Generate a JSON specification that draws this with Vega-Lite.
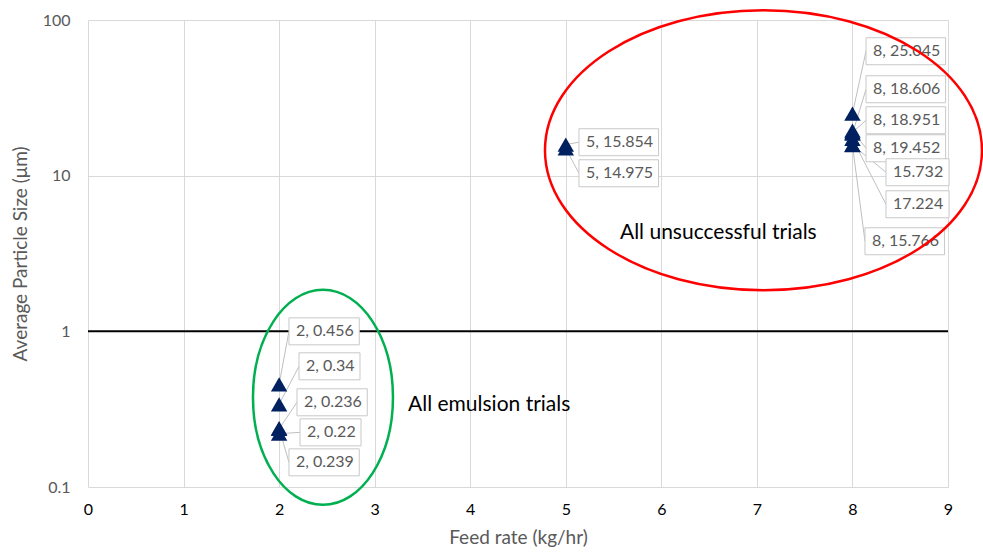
{
  "$schema": "https://vega.github.io/schema/vega-lite/v6.json",
  "width": 860,
  "height": 467,
  "autosize": {"type": "none"},
  "padding": {"left": 88, "top": 20, "right": 35, "bottom": 67},
  "background": "white",
  "config": {"view": {"stroke": null}, "font": "Lato"},
  "datasets": {
    "trials": [
      {"feed": 2, "size": 0.456, "label": "2, 0.456", "lx": 2.103, "ly": 1.0},
      {"feed": 2, "size": 0.34, "label": "2, 0.34", "lx": 2.208, "ly": 0.596},
      {"feed": 2, "size": 0.236, "label": "2, 0.236", "lx": 2.187, "ly": 0.35},
      {"feed": 2, "size": 0.22, "label": "2, 0.22", "lx": 2.219, "ly": 0.2244},
      {"feed": 2, "size": 0.239, "label": "2, 0.239", "lx": 2.103, "ly": 0.144},
      {"feed": 5, "size": 15.854, "label": "5, 15.854", "lx": 5.138, "ly": 16.4},
      {"feed": 5, "size": 14.975, "label": "5, 14.975", "lx": 5.138, "ly": 10.36},
      {"feed": 8, "size": 25.045, "label": "8, 25.045", "lx": 8.142, "ly": 63.0},
      {"feed": 8, "size": 18.606, "label": "8, 18.606", "lx": 8.142, "ly": 35.9},
      {"feed": 8, "size": 18.951, "label": "8, 18.951", "lx": 8.142, "ly": 22.7},
      {"feed": 8, "size": 19.452, "label": "8, 19.452", "lx": 8.142, "ly": 15.0},
      {"feed": 8, "size": 15.732, "label": "15.732", "lx": 8.351, "ly": 10.52},
      {"feed": 8, "size": 17.224, "label": "17.224", "lx": 8.351, "ly": 6.55},
      {"feed": 8, "size": 15.766, "label": "8, 15.766", "lx": 8.131, "ly": 3.79}
    ],
    "groups": [
      {"group": "unsuccessful", "cx": 7.069, "cy": 14.56, "note": "All unsuccessful trials", "tx": 5.567, "ty": 4.264},
      {"group": "emulsion", "cx": 2.459, "cy": 0.3766, "note": "All emulsion trials", "tx": 3.349, "ty": 0.3346}
    ],
    "threshold": [{"size": 1}]
  },
  "layer": [
    {
      "data": {"name": "trials"},
      "mark": {"type": "rule", "color": "#bfbfbf", "strokeWidth": 1},
      "encoding": {
        "x": {
          "field": "feed", "type": "quantitative",
          "scale": {"domain": [0, 9], "nice": false, "zero": false},
          "axis": {
            "title": "Feed rate (kg/hr)", "values": [0, 1, 2, 3, 4, 5, 6, 7, 8, 9], "format": "d",
            "grid": true, "gridColor": "#d9d9d9", "domain": false, "ticks": false, "labelFlush": false,
            "labelPadding": 14, "labelFontSize": 16, "labelColor": "#000000", "labelFont": "Lato",
            "titleFontSize": 19, "titleFontWeight": "normal", "titleColor": "#595959", "titleFont": "Lato",
            "titlePadding": 11
          }
        },
        "y": {
          "field": "size", "type": "quantitative",
          "scale": {"type": "log", "domain": [0.1, 100], "nice": false},
          "axis": {
            "title": "Average Particle Size (μm)", "values": [0.1, 1, 10, 100], "format": "~g",
            "grid": true, "gridColor": "#d9d9d9", "domain": false, "ticks": false, "labelFlush": false,
            "labelPadding": 18, "labelFontSize": 16, "labelColor": "#595959", "labelFont": "Lato",
            "titleFontSize": 19, "titleFontWeight": "normal", "titleColor": "#595959", "titleFont": "Lato",
            "titlePadding": 12
          }
        },
        "x2": {"field": "lx"},
        "y2": {"field": "ly"}
      }
    },
    {
      "data": {"name": "threshold"},
      "mark": {"type": "rule", "color": "#000000", "strokeWidth": 2},
      "encoding": {
        "y": {"field": "size", "type": "quantitative", "scale": {"type": "log", "domain": [0.1, 100], "nice": false}}
      }
    },
    {
      "data": {"name": "trials"},
      "transform": [
        {"calculate": "length(replace(datum.label, /[^0-9]/g, ''))", "as": "nd"},
        {"calculate": "datum.lx + (datum.nd * 9.3 + (length(datum.label) - datum.nd) * 3.6 + 13) / 95.556", "as": "rx"}
      ],
      "layer": [
        {
          "mark": {"type": "rect", "fill": "#ffffff", "stroke": "#c8c8c8", "strokeWidth": 1, "yOffset": -13.5, "y2Offset": 13.5},
          "encoding": {
            "x": {"field": "lx", "type": "quantitative", "scale": {"domain": [0, 9], "nice": false, "zero": false}},
            "x2": {"field": "rx"},
            "y": {"field": "ly", "type": "quantitative", "scale": {"type": "log", "domain": [0.1, 100], "nice": false}},
            "y2": {"field": "ly"}
          }
        },
        {
          "mark": {"type": "text", "align": "left", "baseline": "middle", "dx": 7, "fontSize": 16, "color": "#595959", "font": "Lato"},
          "encoding": {
            "x": {"field": "lx", "type": "quantitative", "scale": {"domain": [0, 9], "nice": false, "zero": false}},
            "y": {"field": "ly", "type": "quantitative", "scale": {"type": "log", "domain": [0.1, 100], "nice": false}},
            "text": {"field": "label"}
          }
        }
      ]
    },
    {
      "data": {"name": "trials"},
      "mark": {"type": "point", "shape": "triangle-up", "filled": true, "color": "#002060", "opacity": 1, "size": 270},
      "encoding": {
        "x": {"field": "feed", "type": "quantitative", "scale": {"domain": [0, 9], "nice": false, "zero": false}},
        "y": {"field": "size", "type": "quantitative", "scale": {"type": "log", "domain": [0.1, 100], "nice": false}}
      }
    },
    {
      "data": {"name": "groups"},
      "transform": [{"filter": "datum.group === 'unsuccessful'"}],
      "mark": {"type": "point", "shape": "M-1,0A1,0.6407 0 1,1 1,0A1,0.6407 0 1,1 -1,0Z", "filled": false, "stroke": "#ff0000", "strokeWidth": 2.5, "opacity": 1, "size": 190969},
      "encoding": {
        "x": {"field": "cx", "type": "quantitative", "scale": {"domain": [0, 9], "nice": false, "zero": false}},
        "y": {"field": "cy", "type": "quantitative", "scale": {"type": "log", "domain": [0.1, 100], "nice": false}}
      }
    },
    {
      "data": {"name": "groups"},
      "transform": [{"filter": "datum.group === 'emulsion'"}],
      "mark": {"type": "point", "shape": "M-0.6512,0A0.6512,1 0 1,1 0.6512,0A0.6512,1 0 1,1 -0.6512,0Z", "filled": false, "stroke": "#00b050", "strokeWidth": 2.5, "opacity": 1, "size": 46225},
      "encoding": {
        "x": {"field": "cx", "type": "quantitative", "scale": {"domain": [0, 9], "nice": false, "zero": false}},
        "y": {"field": "cy", "type": "quantitative", "scale": {"type": "log", "domain": [0.1, 100], "nice": false}}
      }
    },
    {
      "data": {"name": "groups"},
      "mark": {"type": "text", "align": "left", "baseline": "middle", "fontSize": 21, "color": "#000000", "font": "Lato"},
      "encoding": {
        "x": {"field": "tx", "type": "quantitative", "scale": {"domain": [0, 9], "nice": false, "zero": false}},
        "y": {"field": "ty", "type": "quantitative", "scale": {"type": "log", "domain": [0.1, 100], "nice": false}},
        "text": {"field": "note"}
      }
    }
  ]
}
